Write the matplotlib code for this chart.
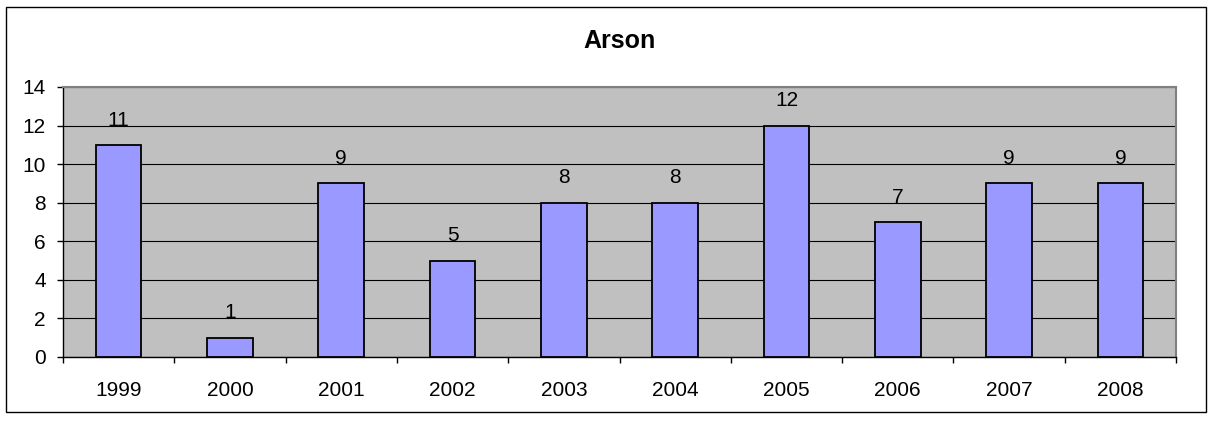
import matplotlib.pyplot as plt
from matplotlib.patches import Rectangle

years = ["1999", "2000", "2001", "2002", "2003", "2004", "2005", "2006", "2007", "2008"]
counts = [11, 1, 9, 5, 8, 8, 12, 7, 9, 9]

plt.rcParams["font.family"] = ["Liberation Sans", "DejaVu Sans"]

W, H = 1208, 424
fig = plt.figure(figsize=(W / 100, H / 100), dpi=100)

# outer chart border
fig.patches.append(Rectangle((6 / W, 1 - 412 / H), (1206 - 6) / W, (412 - 7) / H,
                             transform=fig.transFigure, fill=False,
                             edgecolor="black", linewidth=1))

left, right, top, bottom = 63, 1176, 87, 357
ax = fig.add_axes([left / W, 1 - bottom / H, (right - left) / W, (bottom - top) / H])
ax.set_facecolor("#C0C0C0")

x = range(len(years))
ax.bar(x, counts, width=0.41, color="#9999FF", edgecolor="black", linewidth=1.3, zorder=3)
for xi, v in zip(x, counts):
    ax.text(xi, v + 1, str(v), ha="center", va="baseline", fontsize=15, zorder=4)

ax.set_ylim(0, 14)
ax.set_yticks(range(0, 15, 2))
ax.set_xlim(-0.5, len(years) - 0.5)
ax.yaxis.grid(True, color="black", linewidth=0.8, zorder=1)
ax.set_axisbelow(True)

# category ticks sit between bars, labels centered under bars
ax.set_xticks([i - 0.5 for i in range(len(years) + 1)])
ax.set_xticklabels([])
ax.set_xticks(list(x), minor=True)
ax.set_xticklabels(years, minor=True)
ax.tick_params(axis="x", which="minor", length=0, pad=17, labelsize=15)
ax.tick_params(axis="x", which="major", length=4.5, width=1)
ax.tick_params(axis="y", length=4.5, width=1, labelsize=15, pad=8)

for s in ["top", "right"]:
    ax.spines[s].set_color("#808080")
    ax.spines[s].set_linewidth(1.5)
for s in ["left", "bottom"]:
    ax.spines[s].set_color("black")
    ax.spines[s].set_linewidth(1)

fig.text((left + right) / 2 / W, 1 - 41 / H, "Arson", ha="center", va="center",
         fontsize=18, fontweight="bold")

fig.savefig("out.png", dpi=100)
